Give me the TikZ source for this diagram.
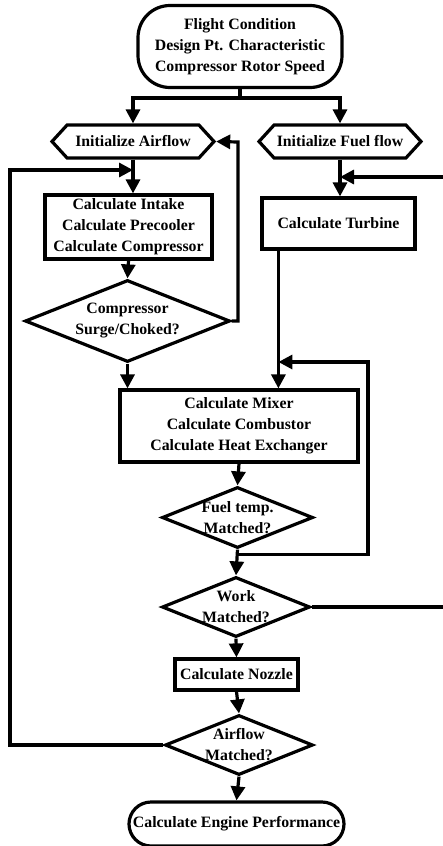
\documentclass[tikz,border=0pt]{standalone}
\usepackage{fontspec}
\setmainfont{Liberation Serif}
\usetikzlibrary{shapes.geometric,shapes.misc,shapes.symbols,arrows.meta,calc}
\begin{document}
\begin{tikzpicture}[x=1pt,y=-1pt,
  every node/.style={font=\fontsize{15.8}{21}\selectfont\bfseries, align=center, inner sep=1pt, line width=3.2pt},
  procbox/.style={draw, rectangle},
  hexbox/.style={draw, signal, signal to=west and east, signal pointer angle=95},
  decbox/.style={draw, diamond, inner sep=0pt},
  arr/.style={line width=3.2pt, -{Triangle[width=14pt,length=14pt]}},
  ln/.style={line width=3.2pt}]
\useasboundingbox (0,0) rectangle (443,846);
\clip (0,0) rectangle (443,846);

\node[draw, rectangle, rounded corners=32pt, minimum width=204pt, minimum height=82pt] (start) at (240,46.5)
  {Flight Condition\\Design Pt. Characteristic\\Compressor Rotor Speed};
\node[hexbox, minimum width=162pt, minimum height=33pt] (ia) at (133,141.5) {Initialize Airflow};
\node[hexbox, minimum width=162pt, minimum height=33pt] (if) at (340,141.5) {Initialize Fuel flow};
\node[procbox, minimum width=167pt, minimum height=64pt] (intake) at (128.5,227)
  {Calculate Intake\\Calculate Precooler\\Calculate Compressor};
\node[procbox, minimum width=153pt, minimum height=51pt] (turb) at (338.5,223.5) {Calculate Turbine};
\node[decbox, minimum width=205pt, minimum height=82pt,
  label={[name=surgetxt]center:{Compressor\\Surge/Choked?}}] (surge) at (127.5,321) {};
\node[procbox, minimum width=238pt, minimum height=72pt] (mixer) at (239,426)
  {Calculate Mixer\\Calculate Combustor\\Calculate Heat Exchanger};
\node[decbox, minimum width=151pt, minimum height=61pt,
  label={[name=fueltxt]center:{Fuel temp.\\Matched?}}] (fuel) at (237.5,517.5) {};
\node[decbox, minimum width=148pt, minimum height=60pt,
  label={[name=worktxt]center:{Work\\Matched?}}] (work) at (236,607) {};
\node[procbox, minimum width=123pt, minimum height=31pt] (nozzle) at (236.5,674.5) {Calculate Nozzle};
\node[decbox, minimum width=148pt, minimum height=60pt,
  label={[name=airtxt]center:{Airflow\\Matched?}}] (air) at (239,745) {};
\node[draw, rounded rectangle, minimum width=217pt, minimum height=44pt] (endn) at (236.5,824) {Calculate Engine Performance};

\coordinate (split) at (240,98);
\coordinate (lp) at (10,170);
\coordinate (rp) at (460,177);
\path (turb.south west) ++(18,0) coordinate (tb);

\draw[ln] (start.south) -- (split);
\draw[arr] (split) -| (ia.north);
\draw[arr] (split) -| (if.north);
\draw[arr] (ia.south) -- (ia.south |- intake.north);
\draw[arr] (air.west) -| (lp) -- (ia.south |- lp);
\draw[arr] (intake.south) -- (surge.north);
\draw[arr] (surge.east) -| (238,142) -- (ia.east);
\draw[arr] (surge.south) -- (surge.south |- mixer.north);
\draw[arr] (if.south) -- (if.south |- turb.north);
\draw[arr] (work.east) -| (rp) -- (if.south |- rp);
\draw[arr] (tb) -- (tb |- mixer.north);
\draw[arr] (fuel.south) -- ++(0,5) -| (368,362) -- (tb |- 0,362);
\draw[arr] (mixer.south) -- (fuel.north);
\draw[arr] (fuel.south) -- (work.north);
\draw[arr] (work.south) -- (nozzle.north);
\draw[arr] (nozzle.south) -- (air.north);
\draw[arr] (air.south) -- (endn.north);
\end{tikzpicture}
\end{document}
